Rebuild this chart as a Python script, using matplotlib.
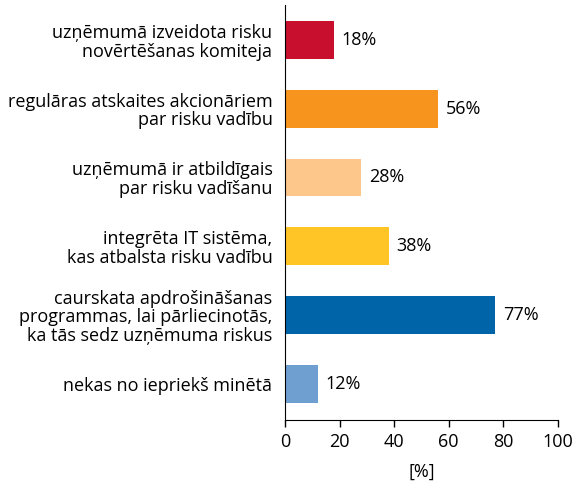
import matplotlib.pyplot as plt

CATEGORIES = [
    "uzņēmumā izveidota risku\nnovērtēšanas komiteja",
    "regulāras atskaites akcionāriem\npar risku vadību",
    "uzņēmumā ir atbildīgais\npar risku vadīšanu",
    "integrēta IT sistēma,\nkas atbalsta risku vadību",
    "caurskata apdrošināšanas\nprogrammas, lai pārliecinotās,\nka tās sedz uzņēmuma riskus",
    "nekas no iepriekš minētā",
]
VALUES = [18, 56, 28, 38, 77, 12]
COLORS = ["#C8102E", "#F7941D", "#FDC68A", "#FFC425", "#0065A8", "#6F9FD0"]

plt.rcParams["font.family"] = ["Open Sans", "DejaVu Sans"]
plt.rcParams["font.size"] = 13

fig = plt.figure(figsize=(5.84, 4.83), dpi=100)
ax = fig.add_axes([0.488, 0.130, 0.467, 0.860])

pos = list(range(len(CATEGORIES)))
ax.barh(pos, VALUES, height=0.55, color=COLORS)
for p, v in zip(pos, VALUES):
    ax.text(v + 2.8, p, f"{v}%", va="center", ha="left", fontsize=13)

ax.set_ylim(5.53, -0.51)
ax.set_xlim(0, 100)
ax.set_yticks(pos)
ax.set_yticklabels(CATEGORIES, ha="right", linespacing=1.05)
ax.tick_params(axis="y", length=0, pad=9)
ax.tick_params(axis="x", direction="out", length=5, width=1, pad=4)
ax.set_xticks([0, 20, 40, 60, 80, 100])
ax.spines["top"].set_visible(False)
ax.spines["right"].set_visible(False)
ax.set_xlabel("[%]", labelpad=9)

fig.savefig("out.png", dpi=100)
